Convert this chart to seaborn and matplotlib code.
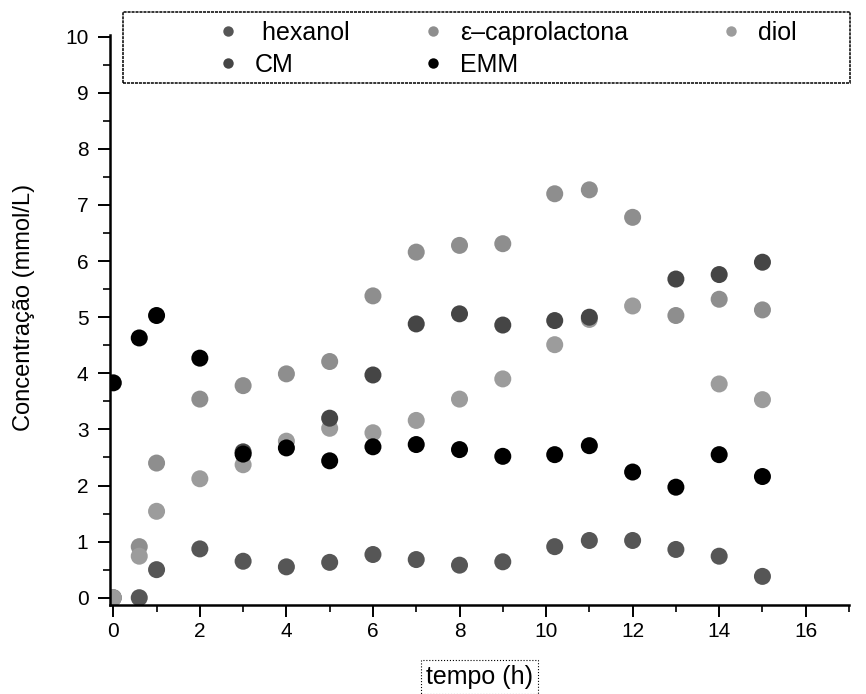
import numpy as np
import pandas as pd
import matplotlib
matplotlib.use("Agg")
import matplotlib.pyplot as plt
import seaborn as sns
from matplotlib.patches import Rectangle
from matplotlib.ticker import MultipleLocator

# Sampling times (h)
tempo = [0, 0.6, 1, 2, 3, 4, 5, 6, 7, 8, 9, 10.2, 11, 12, 13, 14, 15]

# Concentrations (mmol/L); NaN where no measurement was recorded
hexanol = [0.0, 0.0, 0.50, 0.87, 0.65, 0.55, 0.63, 0.77, 0.68, 0.58, 0.64,
           0.91, 1.02, 1.02, 0.86, 0.74, 0.38]
caprolactona = [np.nan, 0.91, 2.40, 3.54, 3.78, 3.99, 4.21, 5.38, 6.16, 6.28,
                6.31, 7.20, 7.27, 6.78, 5.03, 5.32, 5.13]
diol = [0.0, 0.74, 1.54, 2.12, 2.37, 2.79, 3.02, 2.94, 3.16, 3.54, 3.90,
        4.51, 4.96, 5.20, np.nan, 3.81, 3.53]
cm = [np.nan, np.nan, np.nan, np.nan, 2.60, np.nan, 3.20, 3.97, 4.88, 5.06,
      4.86, 4.94, 5.00, np.nan, 5.68, 5.76, 5.98]
emm = [3.83, 4.63, 5.03, 4.27, 2.56, 2.67, 2.44, 2.69, 2.73, 2.64, 2.52,
       2.55, 2.71, 2.24, 1.97, 2.55, 2.16]

series_names = ["hexanol", "ε–caprolactona", "diol", "CM", "EMM"]
series_values = [hexanol, caprolactona, diol, cm, emm]
series_colors = ["#565656", "#8e8e8e", "#9c9c9c", "#454545", "#000000"]

frames = []
for name, vals in zip(series_names, series_values):
    frames.append(pd.DataFrame({"tempo": tempo, "conc": vals, "serie": name}))
df = pd.concat(frames, ignore_index=True).dropna()

sns.set_theme(style="ticks")
plt.rcParams["font.family"] = ["Liberation Sans", "DejaVu Sans"]

W, H = 866, 694
fig = plt.figure(figsize=(W / 100, H / 100), dpi=100)
ax = fig.add_axes([110 / W, 1 - 605 / H, (849 - 110) / W, (605 - 35) / H])

sns.scatterplot(data=df, x="tempo", y="conc", hue="serie",
                hue_order=series_names, palette=dict(zip(series_names, series_colors)),
                s=150, linewidth=0, ax=ax, legend=True)

ax.set_xlim(-0.076, 17.0)
ax.set_ylim(-0.13, 10.03)
ax.xaxis.set_major_locator(MultipleLocator(2))
ax.xaxis.set_minor_locator(MultipleLocator(1))
ax.yaxis.set_major_locator(MultipleLocator(1))
ax.yaxis.set_minor_locator(MultipleLocator(0.5))
ax.tick_params(which="major", direction="out", length=8.5, width=1.4,
               labelsize=15, color="black", labelcolor="black")
ax.tick_params(axis="y", which="major", pad=7)
ax.tick_params(axis="x", which="major", pad=4)
ax.tick_params(which="minor", direction="out", length=5, width=1.2, color="black")
for side in ("top", "right"):
    ax.spines[side].set_visible(False)
for side in ("left", "bottom"):
    ax.spines[side].set_linewidth(1.8)
    ax.spines[side].set_color("black")

ax.set_xlabel("tempo (h)", fontsize=18, color="black", labelpad=17,
              bbox=dict(boxstyle="square,pad=0.2", fc="none", ec="black",
                        ls=":", lw=0.8))
ax.set_ylabel("Concentração (mmol/L)", fontsize=17, color="black")
ax.yaxis.set_label_coords((35 - 110) / 739, (605 - 307) / 570)

# Legend: one small legend per column, enclosed in a common frame
handles, labels = ax.get_legend_handles_labels()
ax.get_legend().remove()
hmap = dict(zip(labels, handles))
for h in handles:
    h.set_markersize(7.5)
    h.set_markeredgewidth(0)

columns = [(["hexanol", "CM"], [" hexanol", "CM"], 228),
           (["ε–caprolactona", "EMM"], ["ε–caprolactona", "EMM"], 433),
           (["diol"], ["diol"], 731)]
for keys, texts, mx in columns:
    leg = fig.legend([hmap[k] for k in keys], texts, loc="upper left",
                     bbox_to_anchor=((mx - 12.5) / W, 1 - 21 / H),
                     frameon=False, fontsize=18, borderpad=0, borderaxespad=0,
                     handlelength=1.0, handletextpad=0.58, labelspacing=0.3)
    for t in leg.get_texts():
        t.set_color("black")

fig.patches.append(Rectangle((123 / W, 1 - 83 / H), 727 / W, 71 / H,
                             transform=fig.transFigure, fill=False,
                             ec="black", lw=1.1, ls=(0, (2, 0.6))))

fig.savefig("out.png", dpi=100)
